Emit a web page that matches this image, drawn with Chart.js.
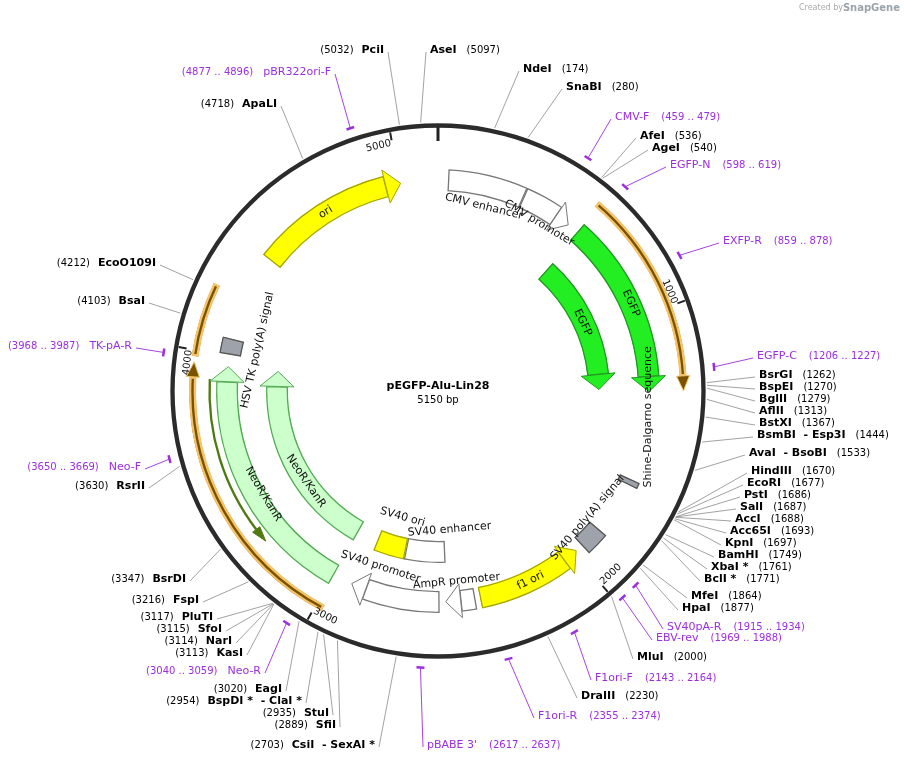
<!DOCTYPE html>
<html>
<head>
<meta charset="utf-8">
<script src="https://cdn.jsdelivr.net/npm/chart.js@4/dist/chart.umd.min.js"></script>
<style>
  html, body { margin: 0; padding: 0; background: #fff; }
  #wrap { width: 904px; height: 761px; position: relative; }
</style>
</head>
<body>
<div id="wrap"><canvas id="map" width="904" height="761"></canvas></div>
<script>
const TOTAL = 5150;
const TITLE = 'pEGFP-Alu-Lin28';

// features: name, start, end, ring, kind, direction
const featNames = ['CMV enhancer', 'CMV promoter', 'EGFP', 'EGFP', 'primer arc R', 'Shine-Dalgarno', 'SV40 poly(A)', 'f1 ori',
  'AmpR promoter', 'SV40 promoter', 'NeoR/KanR', 'NeoR/KanR', 'SV40 ori', 'SV40 enhancer', 'HSV TK poly(A)', 'ori',
  'olive line', 'primer arc L', 'primer arc TK'];
const featStart = [40, 341, 590, 600, 578, 1640, 1870, 1990, 2430, 2570, 2998, 2998, 2740, 2540, 4005, 4406, 3275, 2975, 3980];
const featEnd   = [340, 545, 1290, 1280, 1287, 1662, 1960, 2410, 2545, 2920, 3957, 3962, 2890, 2738, 4065, 5004, 3905, 3960, 4230];
const featRing  = ['D', 'D', 'D', 'E', 'B', 'D', 'D', 'D', 'D', 'D', 'D', 'E', 'E', 'E', 'D', 'D', 'C', 'B', 'B'];
const featKind  = ['white', 'white', 'green', 'green', 'orange', 'grey', 'grey', 'yellow', 'white', 'white', 'neo', 'neo', 'yellow', 'white', 'grey', 'yellow', 'olive', 'orange', 'orange'];
const featDir   = [0, 1, 1, 1, 1, 0, 0, -1, 1, 1, 1, 1, 0, 0, 0, 1, -1, 1, 0];

// feature labels: text, bp, radius, rotation
const flText = ['CMV enhancer', 'CMV promoter', 'EGFP', 'EGFP', 'Shine-Dalgarno sequence', 'SV40 poly(A) signal', 'f1 ori',
  'AmpR promoter', 'SV40 promoter', 'SV40 enhancer', 'SV40 ori', 'NeoR/KanR', 'NeoR/KanR', 'HSV TK poly(A) signal', 'ori'];
const flBp  = [200, 444, 938, 926, 1388, 1864, 2203, 2496, 2833, 2507, 2800, 3425, 3372, 4045, 4690];
const flR   = [190, 196, 212, 160, 212, 196, 211, 191, 185, 139, 131, 203, 160, 185, 211];
const flRot = ['t', 't', 't', 't', -90, 'f', 'f', 'f', 'f', 'f', 'f', 'f', 'f', 't', 't'];

// enzymes on the right: name, bp, label x, label y
const rEnzName = ['AseI', 'NdeI', 'SnaBI', 'AfeI', 'AgeI', 'BsrGI', 'BspEI', 'BglII', 'AflII', 'BstXI', 'BsmBI  - Esp3I',
  'AvaI  - BsoBI', 'HindIII', 'EcoRI', 'PstI', 'SalI', 'AccI', 'Acc65I', 'KpnI', 'BamHI', 'XbaI *', 'BclI *', 'MfeI', 'HpaI', 'MluI', 'DraIII'];
const rEnzBp = [5097, 174, 280, 536, 540, 1262, 1270, 1279, 1313, 1367, 1444, 1533, 1670, 1677, 1686, 1687, 1688, 1693, 1697, 1749, 1761, 1771, 1864, 1877, 2000, 2230];
const rEnzX = [430, 523, 566, 640, 652, 759, 759, 759, 759, 759, 757, 749, 751, 747, 744, 740, 735, 730, 725, 718, 711, 704, 691, 682, 637, 581];
const rEnzY = [50, 69, 87, 136, 148, 375, 387, 399, 411, 423, 435, 453, 471, 483, 495, 507, 519, 531, 543, 555, 567, 579, 596, 608, 657, 696];

// enzymes on the left: name, bp, label right edge, label y
const lEnzName = ['PciI', 'ApaLI', 'EcoO109I', 'BsaI', 'RsrII', 'BsrDI', 'FspI', 'PluTI', 'SfoI', 'NarI', 'KasI', 'EagI',
  'BspDI *  - ClaI *', 'StuI', 'SfiI', 'CsiI  - SexAI *'];
const lEnzBp = [5032, 4718, 4212, 4103, 3630, 3347, 3216, 3117, 3115, 3114, 3113, 3020, 2954, 2935, 2889, 2703];
const lEnzX = [384, 277, 156, 145, 145, 186, 199, 213, 222, 232, 243, 282, 302, 329, 336, 375];
const lEnzY = [50, 104, 263, 301, 486, 579, 600, 617, 629, 641, 653, 689, 701, 713, 725, 745];

// primers: name, range, mid bp, label x, label y, side
const prName = ['pBR322ori-F', 'CMV-F', 'EGFP-N', 'EXFP-R', 'EGFP-C', 'SV40pA-R', 'EBV-rev', 'F1ori-F', 'F1ori-R', "pBABE 3'", 'Neo-R', 'Neo-F', 'TK-pA-R'];
const prRange = ['(4877 .. 4896)', '(459 .. 479)', '(598 .. 619)', '(859 .. 878)', '(1206 .. 1227)', '(1915 .. 1934)', '(1969 .. 1988)',
  '(2143 .. 2164)', '(2355 .. 2374)', '(2617 .. 2637)', '(3040 .. 3059)', '(3650 .. 3669)', '(3968 .. 3987)'];
const prBp = [4886, 469, 608, 868, 1216, 1924, 1978, 2153, 2364, 2627, 3049, 3659, 3977];
const prX = [331, 615, 670, 723, 757, 667, 656, 595, 538, 427, 261, 141, 132];
const prY = [72, 117, 165, 241, 356, 627, 638, 678, 716, 745, 671, 467, 346];
const prSide = ['l', 'r', 'r', 'r', 'r', 'r', 'r', 'r', 'r', 'r', 'l', 'l', 'l'];

const rulerTicks = [1000, 2000, 3000, 4000, 5000];

const OUTER = 268, CUT = 150;
const rings = [['A', 5], ['s1', 14], ['B', 7], ['s2', 12], ['C', 3], ['s3', 5], ['D', 22], ['s4', 28], ['E', 22]];
const kinds = {
  white:  { fill: '#ffffff', border: '#777777', bw: 1 },
  green:  { fill: '#22ee22', border: '#229922', bw: 1 },
  orange: { fill: '#7a5200', border: '#f4c36a', bw: 2 },
  grey:   { fill: '#9ea3ab', border: '#555555', bw: 1 },
  yellow: { fill: '#ffff00', border: '#a5a500', bw: 1 },
  neo:    { fill: '#ccffcc', border: '#55aa55', bw: 1 },
  olive:  { fill: '#4f7a10', border: '#4f7a10', bw: 0 }
};

function ang(bp) { return -Math.PI / 2 + bp / TOTAL * 2 * Math.PI; }

// build one doughnut dataset per ring
const ringOuter = {};
let acc = OUTER;
rings.forEach(([k, w]) => { ringOuter[k] = [acc, acc - w]; acc -= w; });
const arrowPx = 15;
const arrowInfo = [];
const datasets = rings.map(([key, w], di) => {
  const ds = { data: [], backgroundColor: [], borderColor: [], borderWidth: [], weight: w, borderAlign: 'inner' };
  if (key === 'A') {
    ds.data.push(TOTAL); ds.backgroundColor.push('#2b2b2b'); ds.borderColor.push('#2b2b2b'); ds.borderWidth.push(0);
    return ds;
  }
  const idx = featNames.map((_, i) => i).filter(i => featRing[i] === key).sort((a, b) => featStart[a] - featStart[b]);
  const rMid = (ringOuter[key][0] + ringOuter[key][1]) / 2;
  let pos = 0;
  idx.forEach(i => {
    let s = featStart[i], e = featEnd[i];
    const abp = arrowPx / rMid * TOTAL / (2 * Math.PI);
    if (featDir[i] > 0) e -= abp;
    if (featDir[i] < 0) s += abp;
    if (s > pos) { ds.data.push(s - pos); ds.backgroundColor.push('rgba(0,0,0,0)'); ds.borderColor.push('rgba(0,0,0,0)'); ds.borderWidth.push(0); }
    const k = kinds[featKind[i]];
    ds.data.push(e - s); ds.backgroundColor.push(k.fill); ds.borderColor.push(k.border); ds.borderWidth.push(k.bw);
    if (featDir[i] !== 0) arrowInfo.push({ ds: di, el: ds.data.length - 1, dir: featDir[i], kind: featKind[i] });
    pos = e;
  });
  if (pos < TOTAL) { ds.data.push(TOTAL - pos); ds.backgroundColor.push('rgba(0,0,0,0)'); ds.borderColor.push('rgba(0,0,0,0)'); ds.borderWidth.push(0); }
  return ds;
});

const FONT = '"DejaVu Sans", Verdana, sans-serif';

const mapPlugin = {
  id: 'mapPlugin',
  afterDatasetsDraw(chart) {
    const ctx = chart.ctx;
    const el0 = chart.getDatasetMeta(0).data[0];
    const cx = el0.x, cy = el0.y;
    const pt = (bp, r) => [cx + r * Math.cos(ang(bp)), cy + r * Math.sin(ang(bp))];
    ctx.save();

    // arrowheads
    arrowInfo.forEach(a => {
      const el = chart.getDatasetMeta(a.ds).data[a.el];
      const k = kinds[a.kind];
      const ri = el.innerRadius, ro = el.outerRadius, rm = (ri + ro) / 2;
      const ext = (ro - ri) < 10 ? 3 : 6;
      const base = a.dir > 0 ? el.endAngle : el.startAngle;
      const tip = base + a.dir * arrowPx / rm;
      ctx.beginPath();
      ctx.moveTo(cx + (ro + ext) * Math.cos(base), cy + (ro + ext) * Math.sin(base));
      ctx.lineTo(cx + rm * Math.cos(tip), cy + rm * Math.sin(tip));
      ctx.lineTo(cx + (ri - ext) * Math.cos(base), cy + (ri - ext) * Math.sin(base));
      ctx.closePath();
      ctx.fillStyle = a.kind === 'orange' ? '#7a5200' : k.fill;
      ctx.fill();
      ctx.strokeStyle = k.bw ? k.border : k.fill;
      ctx.lineWidth = 1;
      ctx.stroke();
    });

    function rotText(text, bp, r, rot, font, color) {
      const [x, y] = pt(bp, r);
      const deg = bp / TOTAL * 360;
      let a = rot === 't' ? deg : rot === 'f' ? deg - 180 : rot;
      ctx.save();
      ctx.translate(x, y);
      ctx.rotate(a * Math.PI / 180);
      ctx.font = font; ctx.fillStyle = color;
      ctx.textAlign = 'center'; ctx.textBaseline = 'middle';
      ctx.fillText(text, 0, 0);
      ctx.restore();
    }

    flText.forEach((t, i) => rotText(t, flBp[i], flR[i], flRot[i], '11px ' + FONT, '#111'));

    // ruler
    ctx.strokeStyle = '#222'; ctx.lineWidth = 2;
    rulerTicks.forEach(t => {
      const [x1, y1] = pt(t, 263), [x2, y2] = pt(t, 255);
      ctx.beginPath(); ctx.moveTo(x1, y1); ctx.lineTo(x2, y2); ctx.stroke();
      rotText(String(t), t - 45, 252, (t === 2000 || t === 3000) ? 'f' : 't', '10px ' + FONT, '#111');
    });
    ctx.lineWidth = 3;
    let [a1, b1] = pt(0, 264), [a2, b2] = pt(0, 250);
    ctx.beginPath(); ctx.moveTo(a1, b1); ctx.lineTo(a2, b2); ctx.stroke();

    // enzymes
    ctx.textBaseline = 'middle';
    ctx.lineWidth = 0.8; ctx.strokeStyle = '#8a8a8a';
    rEnzName.forEach((n, i) => {
      const [x1, y1] = pt(rEnzBp[i], 269);
      ctx.beginPath(); ctx.moveTo(x1, y1); ctx.lineTo(rEnzX[i] - 4, rEnzY[i] + 2); ctx.stroke();
      ctx.textAlign = 'left';
      ctx.font = 'bold 11px ' + FONT; ctx.fillStyle = '#000';
      ctx.fillText(n, rEnzX[i], rEnzY[i]);
      const w = ctx.measureText(n).width;
      ctx.font = '10px ' + FONT;
      ctx.fillText('(' + rEnzBp[i] + ')', rEnzX[i] + w + 10, rEnzY[i]);
    });
    lEnzName.forEach((n, i) => {
      const [x1, y1] = pt(lEnzBp[i], 269);
      ctx.beginPath(); ctx.moveTo(x1, y1); ctx.lineTo(lEnzX[i] + 4, lEnzY[i] + 2); ctx.stroke();
      ctx.textAlign = 'right';
      ctx.font = 'bold 11px ' + FONT; ctx.fillStyle = '#000';
      ctx.fillText(n, lEnzX[i], lEnzY[i]);
      const w = ctx.measureText(n).width;
      ctx.font = '10px ' + FONT;
      ctx.fillText('(' + lEnzBp[i] + ')', lEnzX[i] - w - 8, lEnzY[i]);
    });

    // primers
    const PURPLE = '#9b2fe0';
    prName.forEach((n, i) => {
      const bp = prBp[i];
      const [mx, my] = pt(bp, 277);
      const t = ang(bp) + Math.PI / 2;
      ctx.strokeStyle = PURPLE; ctx.lineWidth = 2.5;
      ctx.beginPath();
      ctx.moveTo(mx - 4 * Math.cos(t), my - 4 * Math.sin(t));
      ctx.lineTo(mx + 4 * Math.cos(t), my + 4 * Math.sin(t));
      ctx.stroke();
      ctx.lineWidth = 0.9;
      ctx.beginPath(); ctx.moveTo(mx, my);
      ctx.lineTo(prSide[i] === 'r' ? prX[i] - 4 : prX[i] + 4, prY[i] + 2);
      ctx.stroke();
      ctx.fillStyle = PURPLE;
      if (prSide[i] === 'r') {
        ctx.textAlign = 'left'; ctx.font = '11px ' + FONT;
        ctx.fillText(n, prX[i], prY[i]);
        const w = ctx.measureText(n).width;
        ctx.font = '10px ' + FONT;
        ctx.fillText(prRange[i], prX[i] + w + 12, prY[i]);
      } else {
        ctx.textAlign = 'right'; ctx.font = '11px ' + FONT;
        ctx.fillText(n, prX[i], prY[i]);
        const w = ctx.measureText(n).width;
        ctx.font = '10px ' + FONT;
        ctx.fillText(prRange[i], prX[i] - w - 10, prY[i]);
      }
    });

    // centre title
    ctx.textAlign = 'center'; ctx.fillStyle = '#000';
    ctx.font = 'bold 11px ' + FONT;
    ctx.fillText(TITLE, cx, cy - 5);
    ctx.font = '10px ' + FONT;
    ctx.fillText(TOTAL + ' bp', cx, cy + 9);

    // credit
    ctx.textAlign = 'right'; ctx.font = '8px ' + FONT; ctx.fillStyle = '#aaa';
    ctx.fillText('Created by', 843, 8);
    ctx.font = 'bold 10px ' + FONT; ctx.fillStyle = '#9aa3aa';
    ctx.fillText('SnapGene', 900, 8);
    ctx.restore();
  }
};

new Chart(document.getElementById('map'), {
  type: 'doughnut',
  data: { labels: [], datasets: datasets },
  options: {
    responsive: false,
    animation: false,
    devicePixelRatio: 1,
    rotation: 0,
    circumference: 360,
    radius: OUTER,
    cutout: (CUT / OUTER * 100).toFixed(2) + '%',
    layout: { padding: { left: 0, right: 28, top: 21, bottom: 0 } },
    plugins: { legend: { display: false }, tooltip: { enabled: false } }
  },
  plugins: [mapPlugin]
});
</script>
</body>
</html>
